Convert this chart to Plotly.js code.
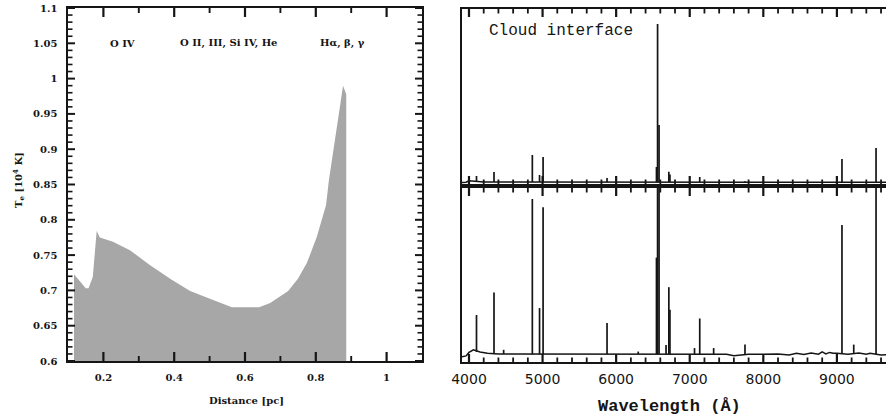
<!DOCTYPE html>
<html>
<head>
<meta charset="utf-8">
<script src="https://cdn.plot.ly/plotly-3.0.1.min.js"></script>
<style>
html, body { margin:0; padding:0; overflow:hidden; background:#fff; }
#chart { width:892px; height:417px; }
</style>
</head>
<body>
<div id="chart"></div>
<script>
// ---- Left panel: electron temperature vs distance ----
const distance = [0.117, 0.150, 0.158, 0.170, 0.181, 0.190, 0.227, 0.275, 0.331, 0.393, 0.445, 0.473, 0.501, 0.563, 0.640, 0.671, 0.722, 0.750, 0.775, 0.803, 0.829, 0.837, 0.877, 0.886];
const temperature = [0.723, 0.703, 0.703, 0.719, 0.784, 0.775, 0.769, 0.757, 0.736, 0.715, 0.699, 0.693, 0.688, 0.676, 0.676, 0.682, 0.699, 0.717, 0.739, 0.776, 0.821, 0.856, 0.990, 0.978];
const ionLabels = ["O IV", "O II, III, Si IV, He", "H\u03b1, \u03b2, \u03b3"];
const ionLabelX = [0.254, 0.552, 0.874];
const distMajorTicks = [0.2, 0.4, 0.6, 0.8, 1.0];
const distMinorTicks = [0.3, 0.5, 0.7, 0.9];
const tempMajorTicks = [0.6, 0.65, 0.7, 0.75, 0.8, 0.85, 0.9, 0.95, 1.0, 1.05, 1.1];

// ---- Right panel: spectra (top: cloud interface, bottom: second spectrum) ----
const topContWl   = [3905, 3960, 4000, 4050, 4200, 4500, 5000, 5500, 6000, 6500, 6700, 7000, 7500, 8000, 8500, 9000, 9300, 9700];
const topContFlux = [0.008, 0.010, 0.018, 0.016, 0.012, 0.012, 0.012, 0.011, 0.011, 0.012, 0.012, 0.010, 0.010, 0.012, 0.012, 0.012, 0.010, 0.010];
const topLineWl   = [4102, 4340, 4861, 4959, 5007, 5876, 6548, 6563, 6583, 6716, 6731, 7136, 7751, 9069, 9532];
const topLinePeak = [0.046, 0.069, 0.166, 0.051, 0.154, 0.034, 0.097, 0.914, 0.337, 0.070, 0.055, 0.040, 0.016, 0.143, 0.206];
const topLineBase = [0.015, 0.012, 0.012, 0.012, 0.012, 0.011, 0.012, 0.012, 0.012, 0.012, 0.012, 0.010, 0.010, 0.012, 0.010];

const botContWl   = [3905, 3960, 4000, 4030, 4060, 4150, 4250, 4400, 4600, 4800, 5100, 5400, 5700, 6000, 6250, 6450, 6650, 6900, 7200, 7500, 7600, 7800, 8000, 8200, 8350, 8450, 8550, 8650, 8750, 8800, 8850, 8900, 8950, 9000, 9150, 9300, 9400, 9450, 9600, 9700];
const botContFlux = [0.030, 0.035, 0.055, 0.065, 0.070, 0.058, 0.050, 0.046, 0.046, 0.044, 0.043, 0.044, 0.046, 0.047, 0.046, 0.046, 0.045, 0.045, 0.046, 0.045, 0.036, 0.044, 0.045, 0.046, 0.040, 0.050, 0.043, 0.052, 0.045, 0.058, 0.046, 0.055, 0.050, 0.050, 0.045, 0.052, 0.045, 0.050, 0.040, 0.042];
const botLineWl   = [4102, 4340, 4471, 4861, 4959, 5007, 5876, 6300, 6548, 6563, 6583, 6678, 6716, 6731, 7065, 7136, 7325, 7751, 9069, 9229, 9532];
const botLinePeak = [0.270, 0.400, 0.070, 0.937, 0.310, 0.890, 0.224, 0.060, 0.600, 1.500, 1.300, 0.098, 0.430, 0.300, 0.080, 0.250, 0.080, 0.100, 0.787, 0.100, 1.300];
const botLineBase = [0.058, 0.050, 0.046, 0.044, 0.044, 0.044, 0.046, 0.046, 0.046, 0.046, 0.046, 0.045, 0.045, 0.045, 0.045, 0.046, 0.046, 0.044, 0.050, 0.048, 0.045];

const wlTicks = [4000, 5000, 6000, 7000, 8000, 9000];
const wlTickLabels = ["4000", "5000", "6000", "7000", "8000", "9000"];

function spikes(wl, base, peak) {
  const x = [], y = [];
  for (let i = 0; i < wl.length; i++) {
    x.push(wl[i], wl[i], null);
    y.push(base[i], peak[i], null);
  }
  return {x, y};
}

const W = 892, H = 417;
const px = v => v / W;
const py = v => (H - v) / H;

const ink = '#151515';
const serifFont = {family: 'DejaVu Serif', size: 10, color: ink, weight: 'bold'};
const sansTick = {family: 'DejaVu Sans', size: 14, color: ink};

const L = {x0: 68, x1: 422, y0: 361, y1: 8, xr: [0.1, 1.1], yr: [0.6, 1.1]};
const R = {x0: 462, x1: 888.4, xr: [3905, 9700]};
const RT = {y0: 184, y1: 9, yr: [0, 1]};
const RB = {y0: 362, y1: 188, yr: [0, 1]};

const topSp = spikes(topLineWl, topLineBase, topLinePeak);
const botSp = spikes(botLineWl, botLineBase, botLinePeak);

const traces = [
  {x: distance, y: temperature, type: 'scatter', mode: 'lines', fill: 'tozeroy',
   fillcolor: '#a6a7a6', line: {width: 0, color: '#a6a7a6'}, xaxis: 'x', yaxis: 'y', hoverinfo: 'skip'},
  {x: topContWl, y: topContFlux, type: 'scatter', mode: 'lines', line: {color: ink, width: 1.5}, xaxis: 'x2', yaxis: 'y2'},
  {x: topSp.x, y: topSp.y, type: 'scatter', mode: 'lines', line: {color: ink, width: 1.7}, xaxis: 'x2', yaxis: 'y2', connectgaps: false},
  {x: botContWl, y: botContFlux, type: 'scatter', mode: 'lines', line: {color: ink, width: 1.5}, xaxis: 'x3', yaxis: 'y3'},
  {x: botSp.x, y: botSp.y, type: 'scatter', mode: 'lines', line: {color: ink, width: 1.7}, xaxis: 'x3', yaxis: 'y3', connectgaps: false}
];

// ---- tick marks: short segments on the axes' own scales (inside, mirrored) ----
function tickTraceX(vals, yr, pxH, len, width, xa, ya) {
  const dy = (yr[1] - yr[0]) / pxH * len;
  const x = [], y = [];
  vals.forEach(v => {
    x.push(v, v, null, v, v, null);
    y.push(yr[0], yr[0] + dy, null, yr[1], yr[1] - dy, null);
  });
  return {x, y, type: 'scatter', mode: 'lines', line: {color: ink, width: width}, xaxis: xa, yaxis: ya, hoverinfo: 'skip', connectgaps: false};
}
function tickTraceY(vals, xr, pxW, len, width, xa, ya) {
  const dx = (xr[1] - xr[0]) / pxW * len;
  const x = [], y = [];
  vals.forEach(v => {
    x.push(xr[0], xr[0] + dx, null, xr[1], xr[1] - dx, null);
    y.push(v, v, null, v, v, null);
  });
  return {x, y, type: 'scatter', mode: 'lines', line: {color: ink, width: width}, xaxis: xa, yaxis: ya, hoverinfo: 'skip', connectgaps: false};
}
const tempMinorTicks = [];
for (let k = 61; k <= 109; k++) if (k % 5 !== 0) tempMinorTicks.push(k / 100);
const wlMinorTicks = [];
for (let w = 4000; w <= 9600; w += 200) if (w % 1000 !== 0) wlMinorTicks.push(w);

const lh = L.y0 - L.y1, lw = L.x1 - L.x0;
traces.push(
  tickTraceX(distMajorTicks, L.yr, lh, 9, 2.2, 'x', 'y'),
  tickTraceX(distMinorTicks, L.yr, lh, 5, 1.9, 'x', 'y'),
  tickTraceY(tempMajorTicks, L.xr, lw, 7, 2.0, 'x', 'y'),
  tickTraceY(tempMinorTicks, L.xr, lw, 4.5, 1.6, 'x', 'y'),
  tickTraceX(wlTicks, RT.yr, RT.y0 - RT.y1, 8, 2.2, 'x2', 'y2'),
  tickTraceX(wlMinorTicks, RT.yr, RT.y0 - RT.y1, 4.5, 1.8, 'x2', 'y2'),
  tickTraceX(wlTicks, RB.yr, RB.y0 - RB.y1, 8, 2.2, 'x3', 'y3'),
  tickTraceX(wlMinorTicks, RB.yr, RB.y0 - RB.y1, 4.5, 1.8, 'x3', 'y3')
);

const frame = {showgrid: false, zeroline: false, showline: true, linecolor: ink, linewidth: 1.6, mirror: true, ticks: ''};

const layout = {
  width: W, height: H,
  margin: {l: 0, r: 0, t: 0, b: 0},
  paper_bgcolor: '#fff', plot_bgcolor: '#fff',
  showlegend: false,
  xaxis: Object.assign({}, frame, {
    domain: [px(L.x0), px(L.x1)], range: L.xr, anchor: 'y',
    tickmode: 'array', tickvals: distMajorTicks, ticktext: ["0.2", "0.4", "0.6", "0.8", "1"],
    tickfont: serifFont, ticklabelstandoff: 6
  }),
  yaxis: Object.assign({}, frame, {
    domain: [py(L.y0), py(L.y1)], range: L.yr, anchor: 'x',
    tickmode: 'array', tickvals: tempMajorTicks,
    ticktext: ["0.6", "0.65", "0.7", "0.75", "0.8", "0.85", "0.9", "0.95", "1", "1.05", "1.1"],
    tickfont: serifFont, ticklabelstandoff: 7
  }),
  xaxis2: Object.assign({}, frame, {
    domain: [px(R.x0), px(R.x1)], range: R.xr, anchor: 'y2', showticklabels: false
  }),
  yaxis2: Object.assign({}, frame, {
    domain: [py(RT.y0), py(RT.y1)], range: RT.yr, anchor: 'x2', showticklabels: false
  }),
  xaxis3: Object.assign({}, frame, {
    domain: [px(R.x0), px(R.x1)], range: R.xr, anchor: 'y3',
    tickmode: 'array', tickvals: wlTicks, ticktext: wlTickLabels,
    tickfont: sansTick, ticklabelstandoff: 4
  }),
  yaxis3: Object.assign({}, frame, {
    domain: [py(RB.y0), py(RB.y1)], range: RB.yr, anchor: 'x3', showticklabels: false
  }),
  annotations: [
    ...ionLabels.map((t, i) => ({
      text: t, x: ionLabelX[i], y: 1.05, xref: 'x', yref: 'y',
      showarrow: false, font: serifFont, xanchor: 'center', yanchor: 'middle'
    })),
    {text: 'T<sub>e</sub> [10<sup>4</sup> K]', x: px(18), y: py(180), xref: 'paper', yref: 'paper',
     textangle: -90, showarrow: false, font: serifFont, xanchor: 'center', yanchor: 'middle'},
    {text: 'Distance [pc]', x: px(246), y: py(400), xref: 'paper', yref: 'paper',
     showarrow: false, font: serifFont, xanchor: 'center', yanchor: 'middle'},
    {text: 'Cloud interface', x: px(487), y: py(31), xref: 'paper', yref: 'paper',
     showarrow: false, font: {family: 'Liberation Mono', size: 16, color: ink}, xanchor: 'left', yanchor: 'middle'},
    {text: 'Wavelength (\u00c5)', x: px(669), y: py(406), xref: 'paper', yref: 'paper',
     showarrow: false, font: {family: 'Liberation Mono', size: 17, color: ink, weight: 'bold'}, xanchor: 'center', yanchor: 'middle'}
  ]
};

Plotly.newPlot('chart', traces, layout, {displayModeBar: false, staticPlot: true});
</script>
</body>
</html>
